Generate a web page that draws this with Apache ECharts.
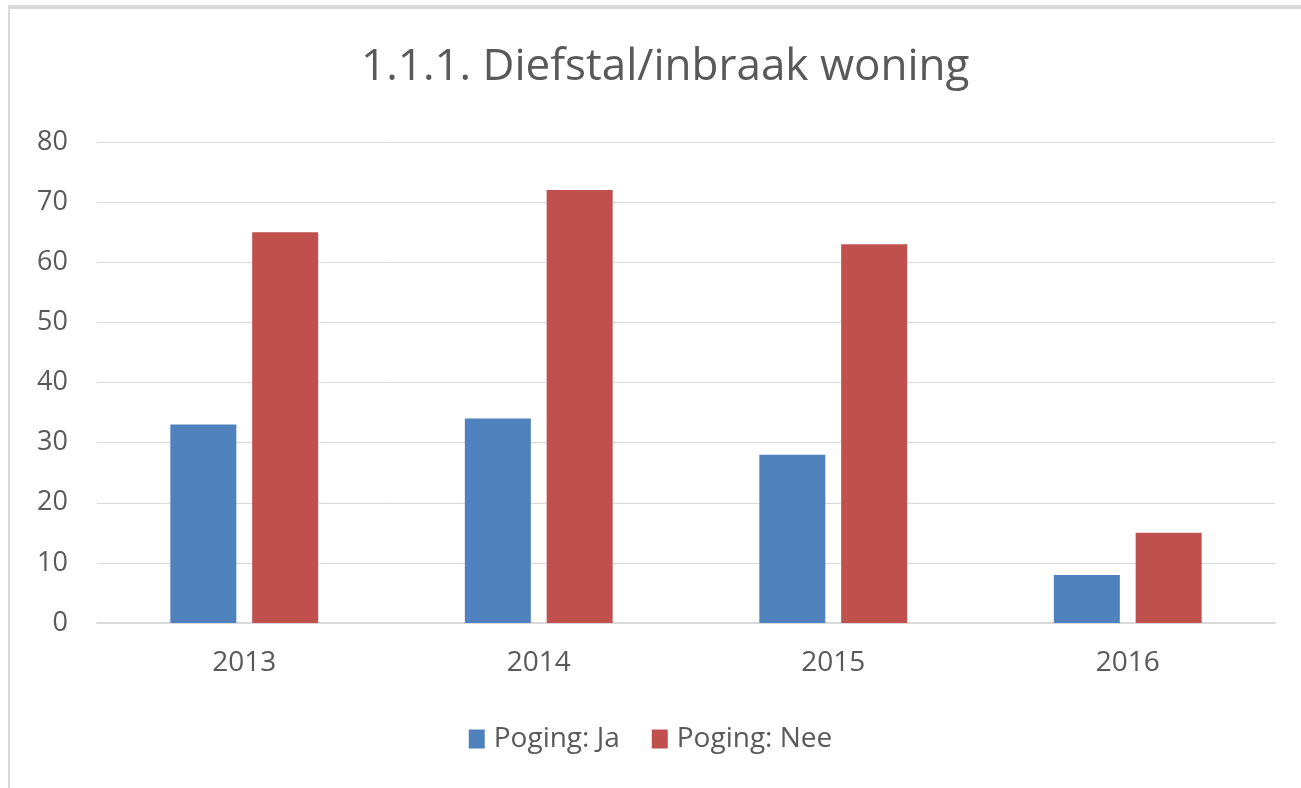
<!DOCTYPE html>
<html>
<head>
<meta charset="utf-8">
<script src="https://cdn.jsdelivr.net/npm/echarts@6/dist/echarts.min.js"></script>
<style>
  html, body { margin: 0; padding: 0; background: #fff; }
  #chart { width: 1301px; height: 788px; }
</style>
</head>
<body>
<div id="chart"></div>
<script>
// jaren op de x-as
const years = ['2013', '2014', '2015', '2016']
// aantallen per poging
const pogingJa = [33, 34, 28, 8]
const pogingNee = [65, 72, 63, 15]
const yTicks = [0, 10, 20, 30, 40, 50, 60, 70, 80]

const textColor = '#595959'
const font = 'Open Sans'

const chart = echarts.init(document.getElementById('chart'))
chart.setOption({
  animation: false,
  title: {
    text: '1.1.1. Diefstal/inbraak woning',
    left: 356,
    top: 40,
    textStyle: { fontFamily: font, fontSize: 44, fontWeight: 'normal', color: textColor }
  },
  graphic: [
    { type: 'line', shape: { x1: 9, y1: 8, x2: 9, y2: 788 }, style: { stroke: '#d9d9d9', lineWidth: 2 } },
    { type: 'line', shape: { x1: 8, y1: 7, x2: 1301, y2: 7 }, style: { stroke: '#d9d9d9', lineWidth: 4 } }
  ],
  legend: {
    bottom: 30,
    left: 'center',
    itemWidth: 16,
    itemHeight: 19,
    itemGap: 32,
    icon: 'rect',
    textStyle: { fontFamily: font, fontSize: 28, color: textColor, padding: [0, 0, 0, 4] }
  },
  grid: { left: 97, right: 26, top: 142, bottom: 165 },
  xAxis: {
    type: 'category',
    data: years,
    axisTick: { show: false },
    axisLine: { lineStyle: { color: '#d9d9d9', width: 2 } },
    axisLabel: { fontFamily: font, fontSize: 28, color: textColor, margin: 26 }
  },
  yAxis: {
    type: 'value',
    min: yTicks[0],
    max: yTicks[yTicks.length - 1],
    interval: 10,
    axisLine: { show: false },
    axisTick: { show: false },
    splitLine: { lineStyle: { color: '#d9d9d9', width: 1 } },
    axisLabel: { fontFamily: font, fontSize: 27, color: textColor, margin: 29 }
  },
  series: [
    { name: 'Poging: Ja', type: 'bar', data: pogingJa, barWidth: 66, barGap: '24%', itemStyle: { color: '#4F81BD' } },
    { name: 'Poging: Nee', type: 'bar', data: pogingNee, barWidth: 66, itemStyle: { color: '#C0504D' } }
  ]
})
</script>
</body>
</html>
